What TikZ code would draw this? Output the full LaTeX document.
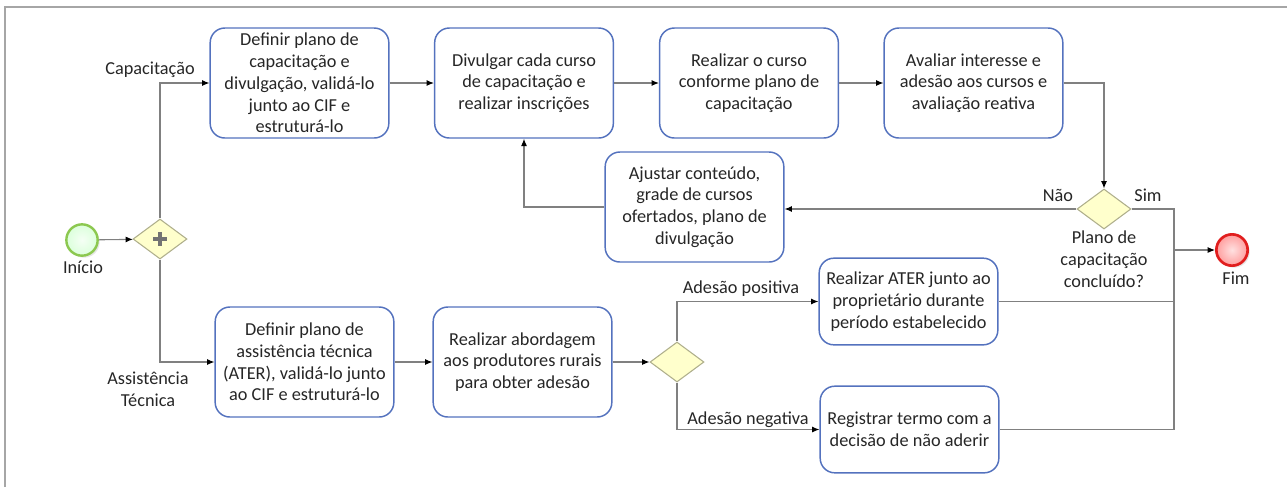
\documentclass[tikz,border=0pt]{standalone}
\usepackage{fontspec}
\setmainfont{Carlito}
\usetikzlibrary{shapes.geometric,arrows.meta,shadows}
\definecolor{taskblue}{RGB}{84,114,190}
\definecolor{gatefill}{RGB}{255,255,204}
\definecolor{gateline}{RGB}{175,175,140}
\definecolor{flowgray}{RGB}{128,128,128}
\definecolor{startgreen}{RGB}{140,200,80}
\definecolor{endred}{RGB}{225,30,30}
\tikzset{
  task/.style={draw=taskblue, line width=1.1pt, rounded corners=11pt, fill=white, align=center,
    minimum width=134pt, minimum height=82.5pt, inner sep=2pt},
  gate/.style={diamond, draw=gateline, fill=gatefill, line width=0.8pt,
    minimum width=40.5pt, minimum height=30pt, inner sep=0pt},
  flow/.style={draw=flowgray, line width=0.8pt, -{Latex[color=black,length=5.5pt,width=4.5pt]}},
  link/.style={draw=flowgray, line width=0.8pt},
  event/.style={circle, minimum size=23.5pt, inner sep=0pt,
    drop shadow={opacity=0.2, shadow xshift=1.5pt, shadow yshift=-1.5pt}},
}
\begin{document}
\begin{tikzpicture}[x=0.75pt, y=-0.75pt, font=\fontsize{13.7pt}{16.3pt}\selectfont, text=black!85]
\useasboundingbox (0,0) rectangle (1287,487);
\draw[gray!70, line width=1.5pt] (5,487) -- (5,7) -- (1287,7);

\node[event, draw=startgreen, line width=1.8pt, inner color=green!4, outer color=green!14] (inicio) at (82,240) {};
\node[gate] (split) at (160,239) {};
\draw[black!55, line width=3pt] ([yshift=-5pt]split.center) -- ([yshift=5pt]split.center)
  ([xshift=-5pt]split.center) -- ([xshift=5pt]split.center);

\node[task] (defcap) at (299.5,83) {Definir plano de\\capacitação e\\divulgação, validá-lo\\junto ao CIF e\\estruturá-lo};
\node[task] (divulg) at (524,83) {Divulgar cada curso\\de capacitação e\\realizar inscrições};
\node[task] (curso) at (749,83) {Realizar o curso\\conforme plano de\\capacitação};
\node[task] (avaliar) at (973.5,83) {Avaliar interesse e\\adesão aos cursos e\\avaliação reativa};
\node[task] (ajustar) at (694.5,207) {Ajustar conteúdo,\\grade de cursos\\ofertados, plano de\\divulgação};
\node[gate] (concl) at (1104,209) {};
\node[event, draw=endred, line width=2pt, inner color=red!12, outer color=red!38] (fim) at (1232,250) {};

\node[task] (defater) at (304.5,362) {Definir plano de\\assistência técnica\\(ATER), validá-lo junto\\ao CIF e estruturá-lo};
\node[task] (abord) at (522.5,362) {Realizar abordagem\\aos produtores rurais\\para obter adesão};
\node[gate] (adesao) at (677,362) {};
\node[task, minimum height=65pt] (ater) at (908.5,301.5) {Realizar ATER junto ao\\proprietário durante\\período estabelecido};
\node[task, minimum height=65pt] (termo) at (909.5,429.5) {Registrar termo com a\\decisão de não aderir};

\node (lcap) at (150,70) {Capacitação};
\node[align=center] (lass) at (148,389) {Assistência\\Técnica};
\node (linicio) at (83,267) {Início};
\node (lfim) at (1236,278) {Fim};
\node (lnao) at (1058,195) {Não};
\node (lsim) at (1148,195) {Sim};
\node[align=center] (lconcl) at (1104,259) {Plano de\\capacitação\\concluído?};
\node (lpos) at (741,289) {Adesão positiva};
\node (lneg) at (748,420) {Adesão negativa};

\coordinate (junta) at (1174,250);
\draw[flow] (inicio) -- (split);
\draw[flow] (split.north) |- (defcap);
\draw[flow] (split.south) |- (defater);
\foreach \u/\v in {defcap/divulg, divulg/curso, curso/avaliar, defater/abord, abord/adesao}
  \draw[flow] (\u) -- (\v);
\draw[flow] (avaliar) -| (concl);
\draw[flow] (concl.west) -- (concl.west -| ajustar.east);
\draw[flow] (ajustar) -| (divulg);
\draw[flow] (concl) -| (junta) -- (fim);
\draw[link] (ater) -| (junta);
\draw[link] (termo) -| (junta);
\draw[flow] (adesao) |- (ater);
\draw[flow] (adesao) |- (termo);
\end{tikzpicture}
\end{document}
